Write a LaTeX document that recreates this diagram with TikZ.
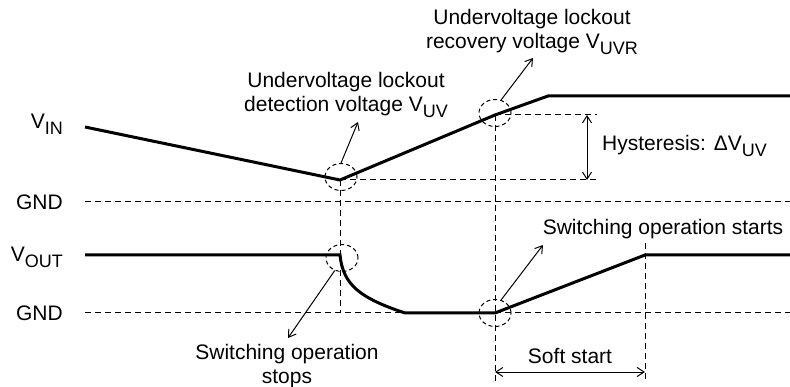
\documentclass[tikz,border=0pt]{standalone}
\usepackage{fontspec}
\setmainfont{Liberation Sans}
\usetikzlibrary{arrows, arrows.meta}
\usetikzlibrary{calc}
\usetikzlibrary{shapes.geometric}

\newcommand{\lowtxt}[1]{\raisebox{-0.28em}{\fontsize{18}{18}\selectfont #1}}

\begin{document}
\begin{tikzpicture}[x=1pt, y=-1pt, font=\fontsize{21}{24}\selectfont,
    wave/.style={line width=3pt, line join=miter},
    guide/.style={line width=1pt, dash pattern=on 6pt off 4pt},
    ring/.style={ellipse, draw, line width=1pt, dash pattern=on 4pt off 3pt,
      inner sep=0pt, minimum width=32pt, minimum height=27pt},
    pointer/.style={line width=1pt, -{Straight Barb[length=7pt, width=9pt]}},
    span/.style={line width=1pt, {Straight Barb[length=7pt, width=9pt]}-{Straight Barb[length=7pt, width=9pt]}}]
    \useasboundingbox (0,0) rectangle (790,387);

    % left labels
    \node[anchor=east, inner sep=0pt] (vin) at (63,124) {V\lowtxt{IN}};
    \node[anchor=east, inner sep=0pt] (gnd1) at (63,202) {GND};
    \node[anchor=east, inner sep=0pt] (vout) at (63,257) {V\lowtxt{OUT}};
    \node[anchor=east, inner sep=0pt] (gnd2) at (63,313) {GND};

    % points of the waveforms
    \coordinate (1) at (85,127);
    \coordinate (2) at (340,180);
    \coordinate (3) at (495,115);
    \coordinate (4) at (548,96);
    \coordinate (5) at (790,96);
    \coordinate (6) at (85,255);
    \coordinate (7) at (340,255);
    \coordinate (8) at (405,313);
    \coordinate (9) at (495,313);
    \coordinate (10) at (645,255);
    \coordinate (11) at (790,255);

    % guide lines
    \draw[guide] (85,202) -- (790,202);
    \draw[guide] (85,313) -- (790,313);
    \draw[guide] (2) -- (597,180);
    \draw[guide] (3) -- (597,115);
    \draw[guide] (2) -- (340,313);
    \draw[guide] (3) -- (495,382);
    \draw[guide] (645,243) -- (645,382);

    % waveforms
    \draw[wave] (1) -- (2) -- (3) -- (4) -- (5);
    \draw[wave] (6) -- (7) .. controls (343,285) and (360,298) .. (8) -- (9) -- (10) -- (11);

    % marked points
    \node[ring] (c1) at (341,177) {};
    \node[ring] (c2) at (495,113) {};
    \node[ring] (c3) at (342,258) {};
    \node[ring] (c4) at (495,313) {};

    % texts
    \node[align=center, inner sep=0pt] (t1) at (346,95) {Undervoltage lockout\\detection voltage V\lowtxt{UV}};
    \node[align=center, inner sep=0pt] (t2) at (532,32) {Undervoltage lockout\\recovery voltage V\lowtxt{UVR}};
    \node[anchor=west, inner sep=0pt] (t3) at (602,146) {Hysteresis: ΔV\lowtxt{UV}};
    \node[inner sep=0pt] (t4) at (663,229) {Switching operation starts};
    \node[align=center, inner sep=0pt] (t5) at (287,366) {Switching operation\\stops};
    \node[inner sep=0pt] (t6) at (570,356) {Soft start};

    % pointers
    \coordinate (a1) at (358,122);
    \coordinate (a2) at (533,58);
    \coordinate (a3) at (288,338);
    \coordinate (a4) at (543,245);
    \draw[pointer] (c1.north) -- (a1);
    \draw[pointer] (c2.65) -- (a2);
    \draw[pointer] (c3.240) -- (a3);
    \draw[pointer] (c4.65) -- (a4);

    % spans
    \coordinate (h1) at (587,115);
    \coordinate (h2) at (587,180);
    \coordinate (s1) at (495,372);
    \coordinate (s2) at (645,372);
    \draw[span] (h1) -- (h2);
    \draw[span] (s1) -- (s2);
  \end{tikzpicture}
\end{document}
